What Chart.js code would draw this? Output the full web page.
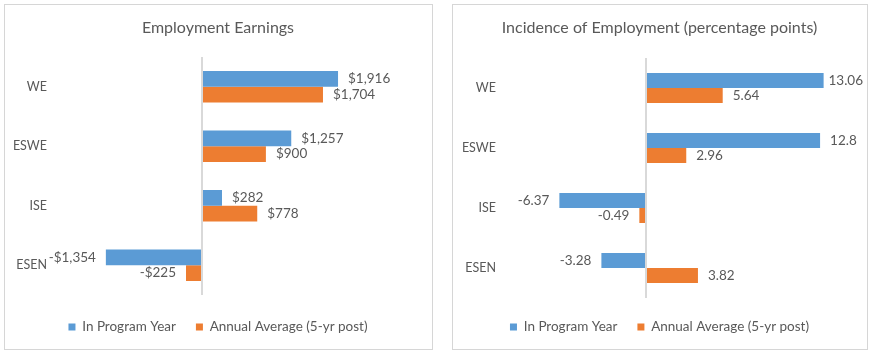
<!DOCTYPE html>
<html>
<head>
<meta charset="utf-8">
<script src="https://cdn.jsdelivr.net/npm/chart.js@4/dist/chart.umd.min.js"></script>
<style>
  html, body { margin: 0; padding: 0; background: #ffffff; }
  body { width: 872px; height: 355px; position: relative; overflow: hidden; }
  .frame { position: absolute; border: 1px solid #D6D6D6; box-sizing: border-box; }
  canvas { position: absolute; top: 0; }
</style>
</head>
<body>
<div class="frame" style="left:4px; top:4px; width:429px; height:346px;"></div>
<div class="frame" style="left:452px; top:4px; width:416px; height:346px;"></div>
<canvas id="c1" width="428" height="355" style="left:4px;"></canvas>
<canvas id="c2" width="415" height="355" style="left:452px;"></canvas>
<script>
// ---- data ----
const categories = ['WE', 'ESWE', 'ISE', 'ESEN'];
const seriesNames = ['In Program Year', 'Annual Average (5-yr post)'];
const earningsInProgram = [1916, 1257, 282, -1354];
const earningsAnnualAvg = [1704, 900, 778, -225];
const incidenceInProgram = [13.06, 12.8, -6.37, -3.28];
const incidenceAnnualAvg = [5.64, 2.96, -0.49, 3.82];
const titles = ['Employment Earnings', 'Incidence of Employment (percentage points)'];

// ---- style ----
const BLUE = '#5B9BD5';
const ORANGE = '#ED7D31';
const TEXT = '#595959';
const FONT = 'Lato, "Open Sans", sans-serif';
Chart.defaults.color = TEXT;
Chart.defaults.font.family = FONT;

const fmtDollar = v => (v < 0 ? '-' : '') + '$' + Math.abs(v).toLocaleString('en-US');
const fmtPlain = v => String(v);

const labelPlugin = {
  id: 'barLabels',
  afterDatasetsDraw(chart, args, opts) {
    const ctx = chart.ctx;
    ctx.save();
    ctx.font = '13.5px ' + FONT;
    ctx.fillStyle = TEXT;
    ctx.textBaseline = 'middle';
    chart.data.datasets.forEach((ds, i) => {
      const meta = chart.getDatasetMeta(i);
      meta.data.forEach((bar, j) => {
        const v = ds.data[j];
        const t = opts.format(v);
        const w = ctx.measureText(t).width;
        if (v >= 0) {
          let tx = bar.x + opts.gap;
          tx = Math.min(tx, chart.width - opts.edge - w);
          ctx.textAlign = 'left';
          ctx.fillText(t, tx, bar.y);
        } else {
          ctx.textAlign = 'right';
          ctx.fillText(t, bar.x - opts.gap, bar.y);
        }
      });
    });
    ctx.restore();
  }
};

function makeChart(id, cfg) {
  return new Chart(document.getElementById(id), {
    type: 'bar',
    data: {
      labels: categories,
      datasets: [
        { label: seriesNames[0], data: cfg.a, backgroundColor: BLUE, borderWidth: 0, yAxisID: 'y',
          categoryPercentage: cfg.catPct, barPercentage: 1.0 },
        { label: seriesNames[1], data: cfg.b, backgroundColor: ORANGE, borderWidth: 0, yAxisID: 'y',
          categoryPercentage: cfg.catPct, barPercentage: 1.0 }
      ]
    },
    plugins: [labelPlugin],
    options: {
      indexAxis: 'y',
      responsive: false,
      animation: false,
      events: [],
      layout: { padding: { left: 0, right: 0, top: 0, bottom: 11.25 } },
      scales: {
        x: {
          min: cfg.min, max: cfg.max,
          ticks: { display: false, stepSize: cfg.step },
          grid: {
            drawTicks: false,
            lineWidth: 2,
            color: c => (c.tick && c.tick.value === 0) ? '#D9D9D9' : 'rgba(0,0,0,0)'
          },
          border: { display: false },
          afterFit: s => { s.height = cfg.xH; }
        },
        y: {
          position: 'left',
          grid: { display: false, drawTicks: false },
          border: { display: false },
          ticks: { padding: cfg.tickPad, color: TEXT, font: { size: 12.5 } },
          afterFit: s => { s.width = cfg.yW; }
        },
        yR: {
          type: 'category',
          position: 'right',
          grid: { display: false, drawTicks: false },
          border: { display: false },
          ticks: { display: false },
          afterFit: s => { s.width = cfg.rW; }
        }
      },
      plugins: {
        title: {
          display: true, text: cfg.title, color: TEXT,
          font: { size: 16, weight: 'normal' },
          padding: { top: 18.4, bottom: cfg.titlePb }
        },
        legend: {
          position: 'bottom',
          labels: { boxWidth: 7, boxHeight: 7, padding: 20, color: TEXT, font: { size: 13.5 } }
        },
        tooltip: { enabled: false },
        barLabels: { format: cfg.fmt, gap: 10, edge: 4 }
      }
    }
  });
}

makeChart('c1', {
  a: earningsInProgram, b: earningsAnnualAvg, title: titles[0],
  min: -2000, max: 3000, step: 1000, catPct: 0.53,
  yW: 56, rW: 17, tickPad: 13, xH: 5.25, titlePb: 19.4, fmt: fmtDollar
});
makeChart('c2', {
  a: incidenceInProgram, b: incidenceAnnualAvg, title: titles[1],
  min: -10, max: 15, step: 5, catPct: 0.5,
  yW: 58, rW: 17, tickPad: 14, xH: 2.25, titlePb: 20.4, fmt: fmtPlain
});
</script>
</body>
</html>
